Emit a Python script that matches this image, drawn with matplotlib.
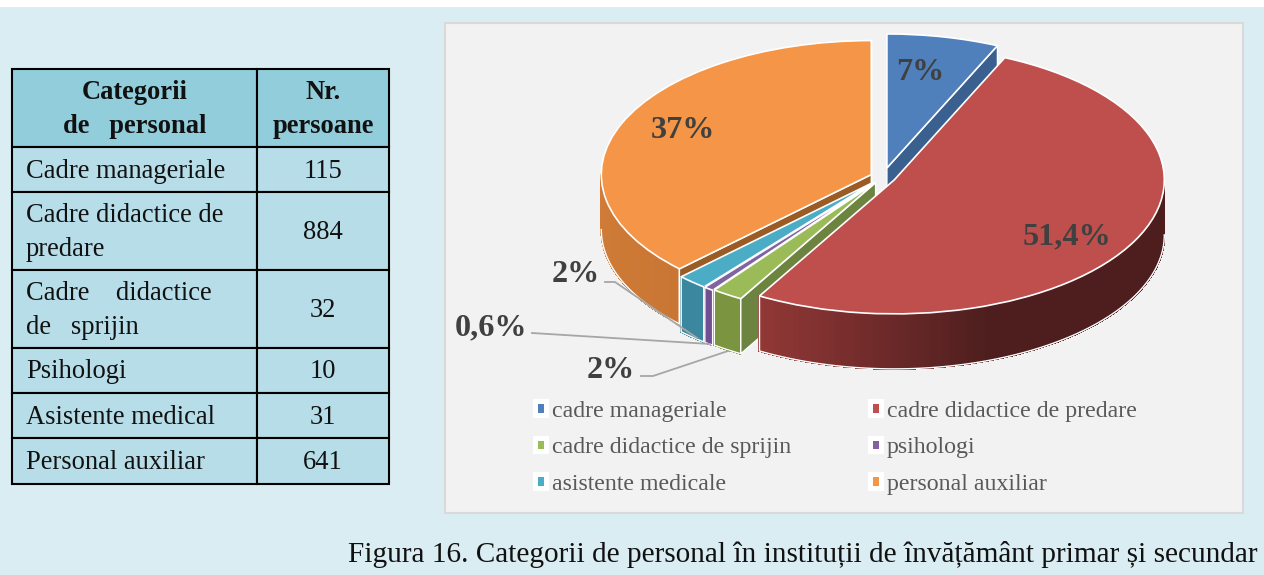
import numpy as np
import matplotlib
matplotlib.use("Agg")
import matplotlib.pyplot as plt
from matplotlib.patches import Rectangle, Patch, Polygon

plt.rcParams['font.family'] = ['Liberation Serif', 'DejaVu Serif']

# ---- data ----
table_header = ["Categorii\nde   personal", "Nr.\npersoane"]
table_names = ["Cadre manageriale", "Cadre didactice de\npredare", "Cadre    didactice\nde   sprijin",
               "Psihologi", "Asistente medical", "Personal auxiliar"]
values = [115, 884, 32, 10, 31, 641]
legend_names = ["cadre manageriale", "cadre didactice de predare", "cadre didactice de sprijin",
                "psihologi", "asistente medicale", "personal auxiliar"]
pct_labels = ["7%", "51,4%", "2%", "0,6%", "2%", "37%"]
caption = "Figura 16. Categorii de personal în instituții de învățământ primar și secundar"

# ---- styles ----
W, H = 1264, 575
top_colors = ['#4f80bb', '#be4f4d', '#9bbb59', '#8064a2', '#4bacc6', '#f49547']
face_colors = ['#3a6090', '#8c3836', '#6d8340', '#5d4879', '#37808f', '#9a5b25']
wall_left = ['#3a6090', '#913836', '#7a9440', '#6f4f92', '#3c87a0', '#d17d39']
wall_right = ['#3a6090', '#4e1e1e', '#7a9440', '#6f4f92', '#3c87a0', '#c97634']
explode = [0.069, 0.047, 0.05, 0.055, 0.055, 0.047]
draw_order = [0, 5, 4, 3, 2, 1]
GREY = '#404040'

fig = plt.figure(figsize=(W / 100, H / 100), dpi=100, facecolor='white')

# background / layout axes in pixel units
bg = fig.add_axes([0, 0, 1, 1])
bg.set_xlim(0, W)
bg.set_ylim(H, 0)
bg.axis('off')
bg.add_patch(Rectangle((0, 7), W, H - 7, fc='#daedf3', ec='none'))
bg.add_patch(Rectangle((445, 23), 798, 490, fc='#f2f2f2', ec='#d9d9d9', lw=1.5))

# table
col_edges = [12, 257, 389]
row_edges = [69, 147, 192, 270, 348, 393, 438, 484]
rows = [table_header] + [[n, str(v)] for n, v in zip(table_names, values)]
for r, row in enumerate(rows):
    y0, y1 = row_edges[r], row_edges[r + 1]
    for c, txt in enumerate(row):
        x0, x1 = col_edges[c], col_edges[c + 1]
        bg.add_patch(Rectangle((x0, y0), x1 - x0, y1 - y0, fc='#92cddc' if r == 0 else '#b7dde8',
                               ec='black', lw=1.5))
        center = r == 0 or c == 1
        bg.text((x0 + x1) / 2 if center else x0 + 14, (y0 + y1) / 2 + 1.5, txt,
                ha='center' if center else 'left', va='center', fontsize=19.1,
                fontweight='bold' if r == 0 else 'normal', color='#111111', linespacing=1.45,
                multialignment='center' if center else 'left')

# pie axes: scaled so the ellipse has the reference's proportions
CX, CY, RX, RY, DEPTH = 883, 177, 270, 134, 55
ax = fig.add_axes([0, 0, 1, 1])
wedges, _ = ax.pie(values, explode=explode, startangle=90, counterclock=False, colors=top_colors,
                   radius=1, wedgeprops=dict(edgecolor='white', linewidth=1.2))
ax.set_aspect('auto')
ax.set_xlim(-CX / RX, (W - CX) / RX)
ax.set_ylim((CY - H) / RY, CY / RY)
ax.patch.set_alpha(0)
ax.axis('off')
d = DEPTH / RY


def hex2rgb(h):
    return np.array(matplotlib.colors.to_rgb(h))


z = 2
for i in draw_order:
    w = wedges[i]
    cx, cy = w.center
    t1, t2 = w.theta1, w.theta2
    # outer wall
    lo, hi = max(t1, -180), min(t2, 0)
    if lo < hi:
        th = np.radians(np.linspace(lo, hi, 90))
        xs, ys = cx + np.cos(th), cy + np.sin(th)
        for k in range(len(th) - 1):
            f = np.clip((xs[k] - xs[0]) / 0.84 if i == 1 else k / 89, 0, 1)
            col = hex2rgb(wall_left[i]) * (1 - f) + hex2rgb(wall_right[i]) * f
            ax.add_patch(Polygon([(xs[k], ys[k]), (xs[k + 1], ys[k + 1]), (xs[k + 1], ys[k + 1] - d), (xs[k], ys[k] - d)],
                                 fc=col, ec=col, lw=0.8, antialiased=False, zorder=z))
        z += 1
        # white outline; the silhouette ends of the pie get no vertical stroke
        ox, oy = xs, ys - d
        if lo > -180:
            ox, oy = np.r_[xs[0], ox], np.r_[ys[0], oy]
        if hi < 0:
            ox, oy = np.r_[ox, xs[-1]], np.r_[oy, ys[-1]]
        ax.plot(ox, oy, color='white', lw=1.0, zorder=z)
        z += 1
    # radial faces turned to the viewer
    for t, vis in ((t1, np.cos(np.radians(t1)) > 0), (t2, np.cos(np.radians(t2)) < 0)):
        if vis:
            ex, ey = cx + np.cos(np.radians(t)), cy + np.sin(np.radians(t))
            ax.add_patch(Polygon([(cx, cy), (ex, ey), (ex, ey - d), (cx, cy - d)], fc=face_colors[i],
                                 ec='white', lw=1.0, zorder=z))
            z += 1
    w.set_zorder(z)
    z += 1

# value labels
lab_pos = [(920, 73), (1067, 236.5), (611, 371), (491, 328), (576, 275), (683, 131)]
for txt, (px, py) in zip(pct_labels, lab_pos):
    bg_x, bg_y = (px - CX) / RX, (CY - py) / RY
    ax.text(bg_x, bg_y, txt, ha='center', va='center', fontsize=23.2, fontweight='bold', color=GREY, zorder=z + 1)

# leader lines
leaders = [[(605, 282), (615, 282), (697, 338)], [(532, 333), (710, 344)], [(641, 376), (653, 376), (728, 351)]]
for pts in leaders:
    p = np.array(pts, float)
    ax.plot((p[:, 0] - CX) / RX, (CY - p[:, 1]) / RY, color='#a6a6a6', lw=1.3, zorder=z + 1)

# legend (column-first order)
order = [0, 2, 4, 1, 3, 5]
handles = [Patch(facecolor=top_colors[i], edgecolor='white', linewidth=3.6) for i in order]
bg.legend(handles, [legend_names[i] for i in order], ncols=2, frameon=False, prop={'size': 17.2},
          labelcolor='#595959', loc='upper left', bbox_to_anchor=(534.5 / W, 1 - 400.5 / H),
          bbox_transform=fig.transFigure, borderaxespad=0, borderpad=0,
          handlelength=0.5, handleheight=0.5, handletextpad=0.23, labelspacing=0.65, columnspacing=3.28)
# caption
bg.text(1258, 554.5, caption, ha='right', va='center', fontsize=21.06, color='#111111')

fig.savefig('out.png', dpi=100, facecolor=fig.get_facecolor())
